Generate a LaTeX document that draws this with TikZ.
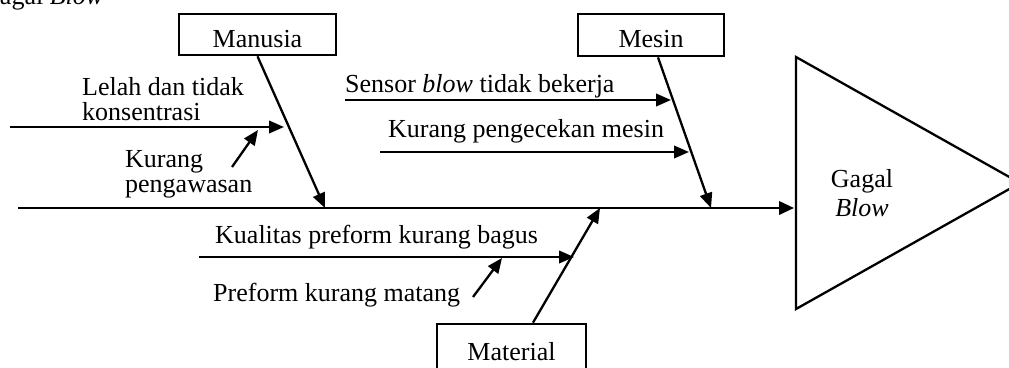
\documentclass[tikz,border=0pt]{standalone}
\usepackage{fontspec}
\setmainfont{Liberation Serif}
\usetikzlibrary{arrows.meta,calc}

\tikzset{
  txt/.style={inner sep=0pt, font=\fontsize{26}{25}\selectfont},
  lbl/.style={txt, anchor=base west, align=left},
  catbox/.style={txt, draw, line width=2.7pt, text height=25pt, text depth=0pt},
  bone/.style={line width=2.3pt, -{Triangle[length=15pt,width=12.5pt]}},
  spine/.style={line width=2.3pt, -{Triangle[length=15pt,width=13.5pt]}},
}

\begin{document}
\begin{tikzpicture}[x=1pt,y=-1pt]
\useasboundingbox (0,0) rectangle (1009,367);
\clip (0,0) rectangle (1009,367);

% caption line running above the figure
\node[lbl] (caption) at (-19,4) {Gagal \textit{Blow}};

% effect head
\coordinate (headTop) at (796,57);
\coordinate (headBot) at (796,309);
\coordinate (headApex) at (1020,183);
\draw[line width=2.3pt, line join=miter] (headTop) -- (headApex) -- (headBot) -- cycle;
\node[txt, align=center, font=\fontsize{26}{29}\selectfont, anchor=base]
  (effect) at (862,216) {Gagal\\\textit{Blow}};

% backbone
\coordinate (spineL) at (18,208);
\coordinate (spineR) at (794,208);
\draw[spine] (spineL) -- (spineR);

% categories
\node[catbox, minimum width=157pt, minimum height=41pt] (manusia) at (257.5,34.5) {Manusia};
\node[catbox, minimum width=146pt, minimum height=42pt] (mesin) at (651,35) {Mesin};
\node[catbox, minimum width=149pt, minimum height=47pt] (material) at (511.5,347.5) {Material};

% joints on the backbone
\coordinate (jManusia) at (325,208);
\coordinate (jMesin) at (711,208);
\coordinate (jMaterial) at (600,208);

\draw[bone] (manusia.south) -- (jManusia);
\draw[bone] ([xshift=7pt]mesin.south) -- (jMesin);
\draw[bone] ([xshift=21.5pt]material.north) -- (jMaterial);

% Manusia causes
\node[lbl] (lelah) at (82,120) {Lelah dan tidak\\konsentrasi};
\coordinate (lelahS) at (10,127);
\coordinate (lelahE) at (284,127);
\draw[bone] (lelahS) -- (lelahE);

\node[lbl] (awas) at (125,192) {Kurang\\pengawasan};
\coordinate (awasS) at (232,167);
\coordinate (awasE) at (258,130);
\draw[bone] (awasS) -- (awasE);

% Mesin causes
\node[lbl] (sensor) at (345,92) {Sensor \textit{blow} tidak bekerja};
\coordinate (sensorS) at (345,100);
\coordinate (sensorE) at (671,100);
\draw[bone] (sensorS) -- (sensorE);

\node[lbl] (cek) at (388,137) {Kurang pengecekan mesin};
\coordinate (cekS) at (380,152);
\coordinate (cekE) at (689,152);
\draw[bone] (cekS) -- (cekE);

% Material causes
\node[lbl] (kualitas) at (215,243) {Kualitas preform kurang bagus};
\coordinate (kualitasS) at (199,257);
\coordinate (kualitasE) at (574,257);
\draw[bone] (kualitasS) -- (kualitasE);

\node[lbl] (matang) at (213,301) {Preform kurang matang};
\coordinate (matangS) at (473,297);
\coordinate (matangE) at (502,258);
\draw[bone] (matangS) -- (matangE);
\end{tikzpicture}
\end{document}
